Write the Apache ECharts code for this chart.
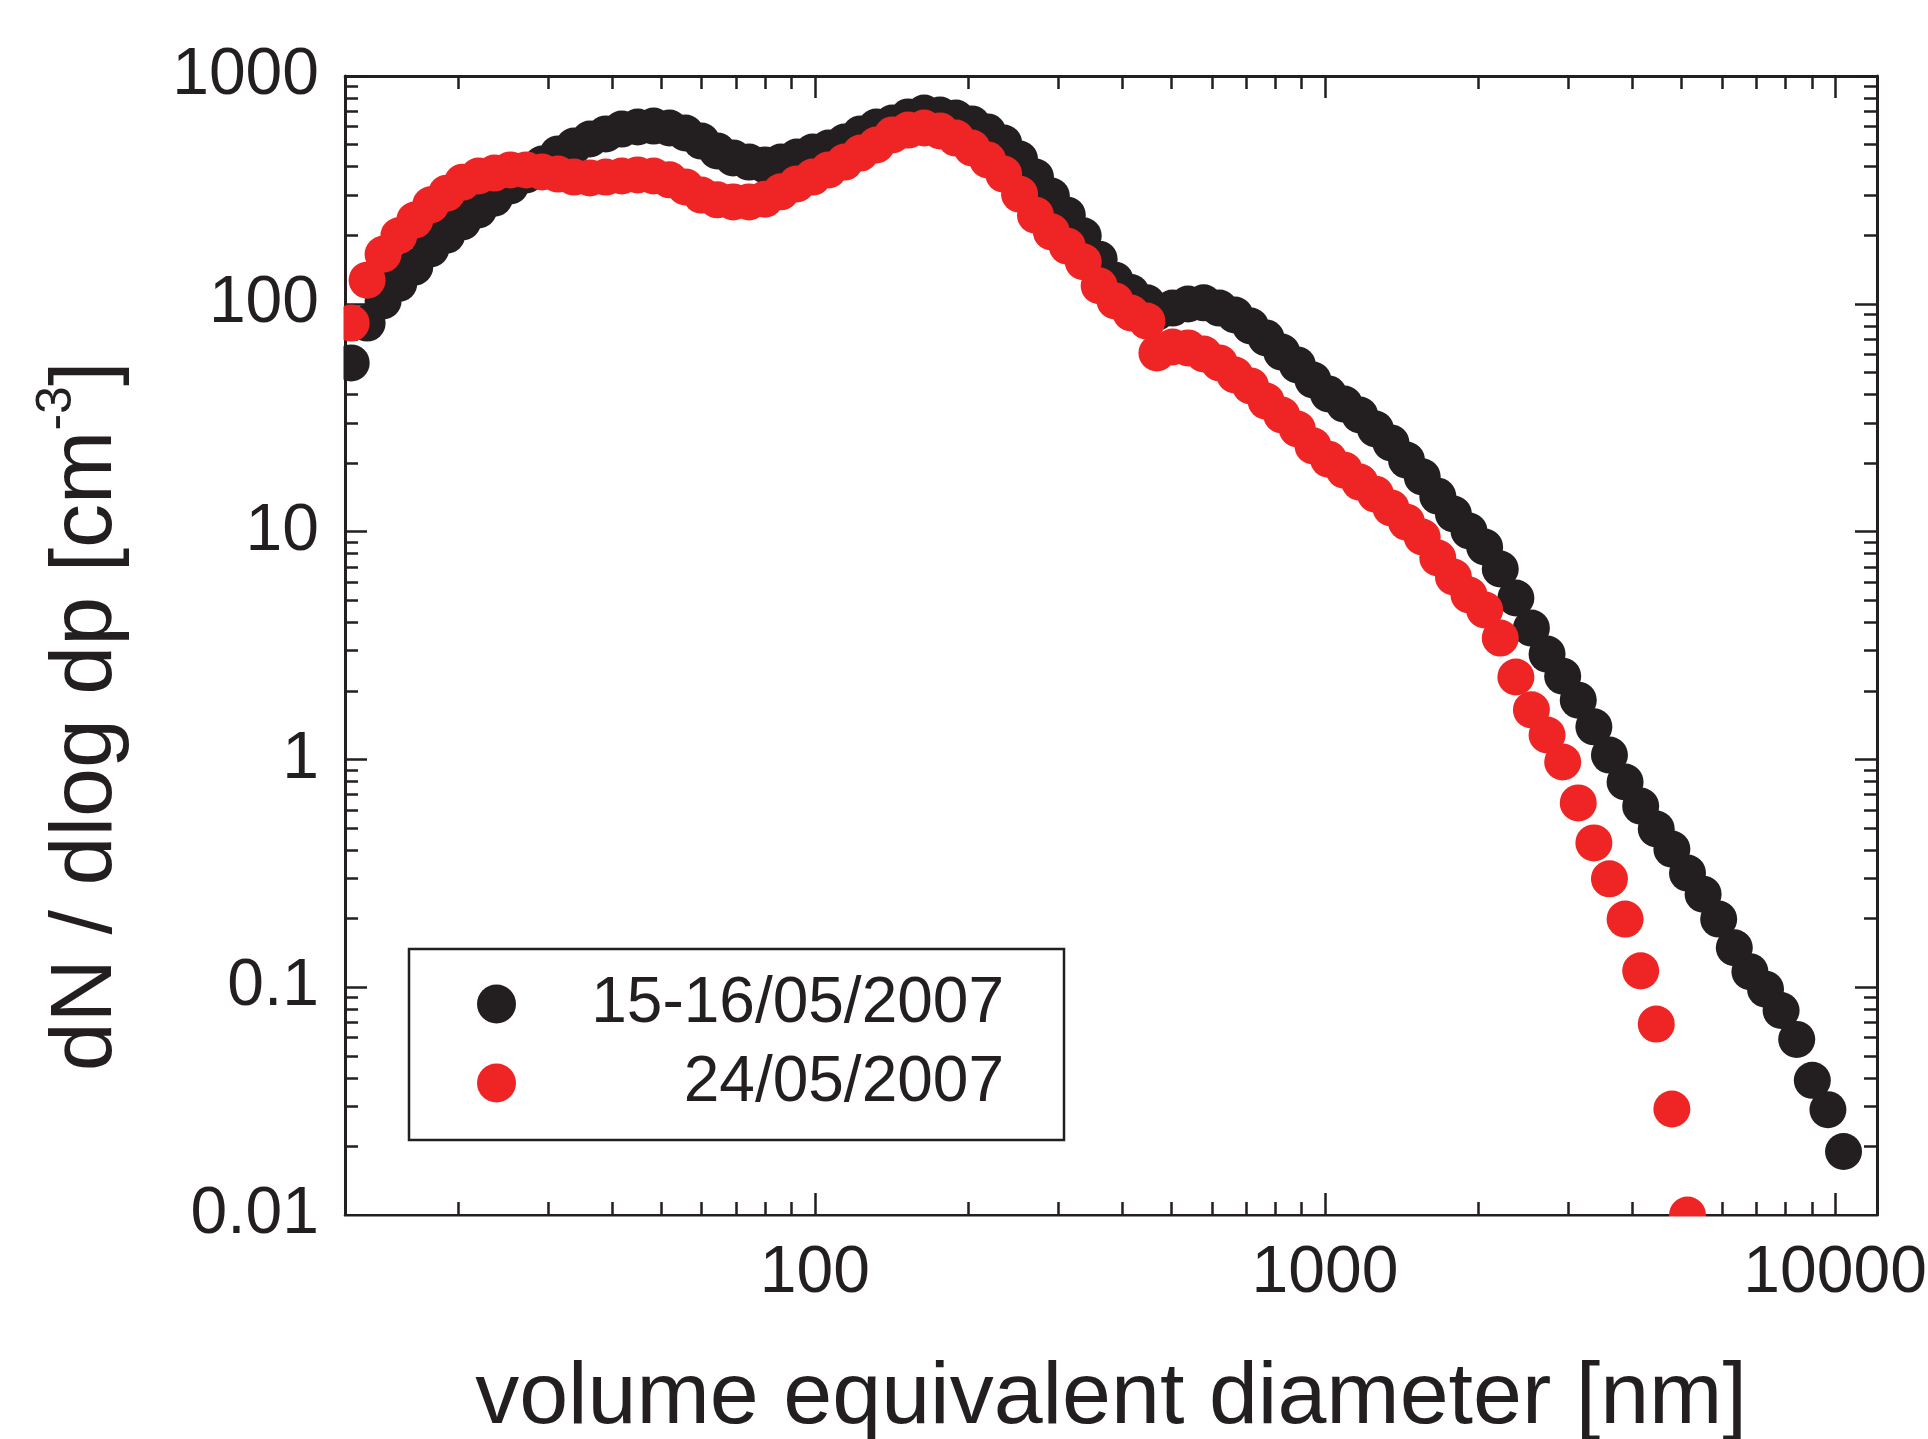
<!DOCTYPE html>
<html>
<head>
<meta charset="utf-8">
<script src="https://cdn.jsdelivr.net/npm/echarts@6/dist/echarts.min.js"></script>
<style>
html,body{margin:0;padding:0;background:#ffffff;}
#chart{width:1928px;height:1439px;}
</style>
</head>
<body>
<div id="chart"></div>
<script>
// ---------------- data ----------------
const seriesNames = ['15-16/05/2007', '24/05/2007'];

// SMPS part (nm)
const smpsDiameter = [12.34, 13.26, 14.25, 15.30, 16.44, 17.67, 18.99, 20.40, 21.92, 23.55,
  25.31, 27.19, 29.22, 31.39, 33.73, 36.24, 38.94, 41.84, 44.96, 48.31,
  51.90, 55.77, 59.93, 64.39, 69.18, 74.33, 79.86, 85.81, 92.20, 99.06,
  106.4, 114.4, 122.9, 132.0, 141.9, 152.4, 163.8, 176.0, 189.1, 203.2,
  218.3, 234.6, 252.0, 270.8, 290.9, 312.6, 335.9, 360.9, 387.8, 416.7, 447.7];

// APS part (nm)
const apsDiameter = [468.4, 502.6, 539.1, 578.5, 620.8, 666.0, 714.6, 766.8, 822.7, 882.8,
  947.3, 1016, 1091, 1170, 1256, 1347, 1445, 1551, 1664, 1786,
  1916, 2056, 2206, 2367, 2539, 2725, 2924, 3137, 3366, 3611,
  3875, 4158, 4461, 4786, 5136, 5511, 5912, 6344, 6807, 7304,
  7836, 8408, 9022, 9680, 10386];

// 15-16/05/2007 (black)
const blackSmps = [55.0, 82.3, 103, 123, 145, 174, 200, 229, 258, 291,
  329, 368, 411, 455, 493, 529, 557, 585, 597, 603,
  591, 562, 518, 469, 437, 419, 407, 419, 441, 464,
  483, 513, 557, 597, 622, 661, 688, 674, 654, 616,
  568, 508, 432, 360, 297, 245, 199, 157, 127, 112, 101];
const blackAps = [92.0, 95.8, 99.8, 101, 95.8, 89.3, 79.9, 70.8, 61.4, 53.9,
  46.3, 40.2, 36.3, 32.5, 28.2, 24.5, 20.6, 17.4, 14.3, 11.95,
  10.06, 8.56, 6.85, 5.11, 3.77, 2.90, 2.32, 1.82, 1.39, 1.045,
  0.796, 0.624, 0.495, 0.404, 0.317, 0.256, 0.199, 0.149, 0.117, 0.098,
  0.079, 0.059, 0.039, 0.029, 0.019];

// 24/05/2007 (red)
const redSmps = [82.3, 127, 165, 199, 233, 272, 306, 342, 364, 375,
  387, 387, 379, 371, 360, 357, 360, 364, 368, 364,
  350, 326, 300, 286, 280, 280, 288, 310, 336, 360,
  387, 419, 459, 498, 551, 579, 591, 574, 534, 483,
  428, 371, 303, 245, 207, 179, 153, 120, 103, 91.1, 84.0];
const redAps = [60.8, 64.6, 64.0, 60.2, 55.0, 48.7, 43.6, 37.4, 32.5, 28.2,
  23.8, 20.8, 18.6, 16.5, 14.6, 12.7, 11.0, 9.47, 7.66, 6.32,
  5.27, 4.53, 3.41, 2.30, 1.65, 1.28, 0.974, 0.644, 0.430, 0.299,
  0.199, 0.118, 0.0689, 0.0292, 0.0100];

// axis ranges and tick values
const xRange = [12, 12080];
const yRange = [0.01, 1000];
const xMinorTicks = [20, 30, 40, 50, 60, 70, 80, 90,
  200, 300, 400, 500, 600, 700, 800, 900,
  2000, 3000, 4000, 5000, 6000, 7000, 8000, 9000];
const yMinorTicks = [0.02, 0.03, 0.04, 0.05, 0.06, 0.07, 0.08, 0.09,
  0.2, 0.3, 0.4, 0.5, 0.6, 0.7, 0.8, 0.9,
  2, 3, 4, 5, 6, 7, 8, 9,
  20, 30, 40, 50, 60, 70, 80, 90,
  200, 300, 400, 500, 600, 700, 800, 900];

const xTitle = 'volume equivalent diameter [nm]';
const yTitle = '{t|dN / dlog dp [cm}{s|-3}{t|]}';

// ---------------- styling ----------------
const FONT = '"Liberation Sans", Arial, Helvetica, sans-serif';
const INK = '#231f20';
const RED = '#ee2524';
const W = 1928, H = 1439;
const GRID = { left: 345, top: 76, right: 51, bottom: 224 };
const plotW = W - GRID.left - GRID.right;
const plotH = H - GRID.top - GRID.bottom;

function fmt(v) { return String(+Number(v).toPrecision(6)); }

function pair(xs, ys) { return ys.map((v, i) => [xs[i], v]); }
const blackData = pair(smpsDiameter, blackSmps).concat(pair(apsDiameter, blackAps));
const redData = pair(smpsDiameter, redSmps).concat(pair(apsDiameter, redAps));

const lineOn = { show: true, onZero: false, lineStyle: { color: INK, width: 3 } };
const lineOff = { show: false, onZero: false };
const majorTick = { show: true, inside: true, length: 22, lineStyle: { color: INK, width: 2.5 } };
function minorTick(vals) {
  return { show: true, inside: true, length: 13, lineStyle: { color: INK, width: 2.5 }, customValues: vals };
}
const noLabel = { show: false };

function xAx(extra) {
  return Object.assign({ type: 'log', logBase: 10, min: xRange[0], max: xRange[1],
    splitLine: { show: false }, minorTick: { show: false } }, extra);
}
function yAx(extra) {
  return Object.assign({ type: 'log', logBase: 10, min: yRange[0], max: yRange[1],
    splitLine: { show: false }, minorTick: { show: false } }, extra);
}

const chart = echarts.init(document.getElementById('chart'), null, { renderer: 'canvas', width: W, height: H });

const option = {
  animation: false,
  backgroundColor: '#ffffff',
  grid: { left: GRID.left, top: GRID.top, right: GRID.right, bottom: GRID.bottom,
    containLabel: false, outerBoundsMode: 'none' },
  xAxis: [
    xAx({ position: 'bottom', axisLine: lineOn, axisTick: majorTick,
      axisLabel: { show: true, margin: 26, fontSize: 66, fontFamily: FONT, color: INK,
        formatter: fmt, showMinLabel: false, showMaxLabel: false },
      name: xTitle, nameLocation: 'middle', nameGap: 140,
      nameTextStyle: { fontSize: 88, fontFamily: FONT, color: INK } }),
    xAx({ position: 'top', axisLine: lineOn, axisTick: majorTick, axisLabel: noLabel }),
    xAx({ position: 'bottom', axisLine: lineOff, axisTick: minorTick(xMinorTicks), axisLabel: noLabel }),
    xAx({ position: 'top', axisLine: lineOff, axisTick: minorTick(xMinorTicks), axisLabel: noLabel })
  ],
  yAxis: [
    yAx({ position: 'left', axisLine: lineOn, axisTick: majorTick,
      axisLabel: { show: true, margin: 26, fontSize: 66, fontFamily: FONT, color: INK,
        formatter: fmt, showMinLabel: true, showMaxLabel: true },
      name: yTitle, nameLocation: 'middle', nameRotate: 90, nameGap: 203,
      nameTextStyle: { fontSize: 88, fontFamily: FONT, color: INK, padding: [0, 142, 0, 0],
        rich: {
          t: { fontSize: 88, fontFamily: FONT, color: INK, lineHeight: 110 },
          s: { fontSize: 50, fontFamily: FONT, color: INK, lineHeight: 50, verticalAlign: 'top' }
        } } }),
    yAx({ position: 'right', axisLine: lineOn, axisTick: majorTick, axisLabel: noLabel }),
    yAx({ position: 'left', axisLine: lineOff, axisTick: minorTick(yMinorTicks), axisLabel: noLabel }),
    yAx({ position: 'right', axisLine: lineOff, axisTick: minorTick(yMinorTicks), axisLabel: noLabel })
  ],
  legend: {
    orient: 'vertical', left: 409, top: 949,
    padding: [23, 60, 25, 68],
    itemWidth: 39, itemHeight: 64, itemGap: 15,
    icon: 'circle',
    backgroundColor: '#ffffff', borderColor: INK, borderWidth: 2.5, borderRadius: 0,
    selectedMode: false,
    formatter: function (name) { return '{r|' + name + '}'; },
    textStyle: { fontFamily: FONT, fontSize: 64, color: INK,
      rich: { r: { width: 483, align: 'right', fontFamily: FONT, fontSize: 64, lineHeight: 64, color: INK } } },
    data: seriesNames
  },
  graphic: [
    { type: 'rect', silent: true, z: 50,
      shape: { x: GRID.left - 22, y: GRID.top - 25, width: 20.5, height: plotH + 50 },
      style: { fill: '#ffffff' } },
    { type: 'rect', silent: true, z: 50,
      shape: { x: GRID.left - 25, y: GRID.top + plotH + 1.5, width: plotW + 50, height: 20 },
      style: { fill: '#ffffff' } }
  ],
  series: [
    { name: seriesNames[0], type: 'scatter', xAxisIndex: 0, yAxisIndex: 0,
      symbol: 'circle', symbolSize: 37, data: blackData,
      itemStyle: { color: INK, opacity: 1 }, emphasis: { disabled: true }, z: 2 },
    { name: seriesNames[1], type: 'scatter', xAxisIndex: 0, yAxisIndex: 0,
      symbol: 'circle', symbolSize: 37, data: redData,
      itemStyle: { color: RED, opacity: 1 }, emphasis: { disabled: true }, z: 3 }
  ]
};
chart.setOption(option);
</script>
</body>
</html>
